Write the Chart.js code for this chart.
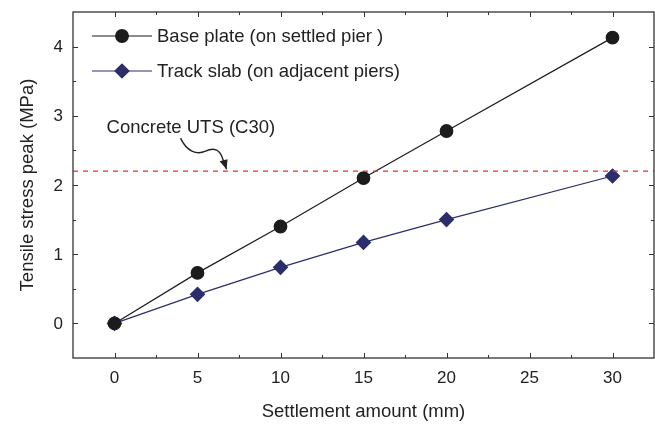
<!DOCTYPE html>
<html>
<head>
<meta charset="utf-8">
<script src="https://cdn.jsdelivr.net/npm/chart.js@4/dist/chart.umd.min.js"></script>
<style>
  html, body { margin: 0; padding: 0; background: #fff; }
  #wrap { width: 655px; height: 424px; }
</style>
</head>
<body>
<div id="wrap"><canvas id="chart" width="655" height="424"></canvas></div>
<script>
const settlement = [0, 5, 10, 15, 20, 30];
const basePlate = [0, 0.73, 1.40, 2.10, 2.78, 4.13];
const trackSlab = [0, 0.42, 0.81, 1.17, 1.50, 2.13];
const utsLimit = 2.2;
const xTicks = [0, 5, 10, 15, 20, 25, 30];
const yTicks = [0, 1, 2, 3, 4];
const xRange = [-2.5, 32.5];
const yRange = [-0.5, 4.5];

const FONT = "'Liberation Sans', Arial, sans-serif";
const BLACK = '#1c1c1c';
const NAVY = '#2b2e6a';
const AXIS = '#333';
const TEXT = '#222';

function pts(ys) {
  return settlement.map((x, i) => ({ x: x, y: ys[i] }));
}

// frame, inward ticks (major and minor) on all four sides, tick labels
const framePlugin = {
  id: 'frame',
  afterDraw(chart) {
    const { ctx, chartArea: a, scales } = chart;
    const xs = scales.x, ys = scales.y;
    ctx.save();
    ctx.strokeStyle = AXIS;
    ctx.lineWidth = 1.3;
    ctx.strokeRect(a.left, a.top, a.right - a.left, a.bottom - a.top);
    ctx.lineWidth = 1;
    ctx.beginPath();
    for (let v = 0; v <= 30; v += 2.5) {
      const px = Math.round(xs.getPixelForValue(v)) + 0.5;
      const len = v % 5 === 0 ? 5 : 3;
      ctx.moveTo(px, a.bottom); ctx.lineTo(px, a.bottom - len);
      ctx.moveTo(px, a.top); ctx.lineTo(px, a.top + len);
    }
    for (let v = 0; v <= 4; v += 0.5) {
      const py = Math.round(ys.getPixelForValue(v)) + 0.5;
      const len = v % 1 === 0 ? 5 : 3;
      ctx.moveTo(a.left, py); ctx.lineTo(a.left + len, py);
      ctx.moveTo(a.right, py); ctx.lineTo(a.right - len, py);
    }
    ctx.stroke();

    ctx.fillStyle = TEXT;
    ctx.font = '17px ' + FONT;
    ctx.textAlign = 'center';
    ctx.textBaseline = 'middle';
    xTicks.forEach(v => ctx.fillText(String(v), xs.getPixelForValue(v), a.bottom + 20));
    ctx.textAlign = 'right';
    yTicks.forEach(v => ctx.fillText(String(v), a.left - 10, ys.getPixelForValue(v) + 1));
    ctx.restore();
  }
};

// legend with line + marker, top-left inside the plot
const legendPlugin = {
  id: 'lineLegend',
  afterDraw(chart) {
    const { ctx } = chart;
    const items = chart.data.datasets.filter(d => d.inLegend);
    ctx.save();
    items.forEach((d, i) => {
      const y = 36 + i * 35;
      ctx.strokeStyle = d.borderColor;
      ctx.lineWidth = 1.2;
      ctx.beginPath();
      ctx.moveTo(92, y); ctx.lineTo(152, y);
      ctx.stroke();
      ctx.fillStyle = d.pointBackgroundColor;
      ctx.strokeStyle = d.pointBorderColor;
      Chart.helpers.drawPoint(ctx, {
        pointStyle: d.pointStyle, radius: d.pointRadius, borderWidth: 1
      }, 122, y);
      ctx.fillStyle = TEXT;
      ctx.font = '18.5px ' + FONT;
      ctx.textBaseline = 'middle';
      ctx.fillText(d.label, 157, y + 1);
    });
    ctx.restore();
  }
};

// text label and curly arrow pointing to the UTS line
const notePlugin = {
  id: 'utsNote',
  afterDraw(chart) {
    const { ctx, scales } = chart;
    const tx = scales.x.getPixelForValue(4.6);
    const ty = scales.y.getPixelForValue(2.83);
    ctx.save();
    ctx.fillStyle = TEXT;
    ctx.font = '18.5px ' + FONT;
    ctx.textAlign = 'center';
    ctx.textBaseline = 'middle';
    ctx.fillText('Concrete UTS (C30)', tx, ty);

    const ex = scales.x.getPixelForValue(6.75);
    const ey = scales.y.getPixelForValue(utsLimit) - 2;
    ctx.strokeStyle = TEXT;
    ctx.lineWidth = 1.4;
    ctx.beginPath();
    ctx.moveTo(ex - 46, ey - 31);
    ctx.bezierCurveTo(ex - 40, ey - 18, ex - 30, ey - 14, ex - 21, ey - 18);
    ctx.bezierCurveTo(ex - 13, ey - 22, ex - 7, ey - 20, ex - 4, ey - 11);
    ctx.lineTo(ex, ey);
    ctx.stroke();
    ctx.fillStyle = TEXT;
    ctx.beginPath();
    ctx.moveTo(ex, ey);
    ctx.lineTo(ex - 7, ey - 8);
    ctx.lineTo(ex + 1, ey - 10);
    ctx.closePath();
    ctx.fill();
    ctx.restore();
  }
};

new Chart(document.getElementById('chart'), {
  type: 'scatter',
  data: {
    datasets: [
      {
        label: 'Concrete UTS (C30)',
        data: [{ x: xRange[0], y: utsLimit }, { x: xRange[1], y: utsLimit }],
        showLine: true,
        borderColor: '#ee2b2b',
        borderWidth: 1.3,
        borderDash: [5, 5],
        pointRadius: 0,
        inLegend: false
      },
      {
        label: 'Base plate (on settled pier )',
        data: pts(basePlate),
        showLine: true,
        borderColor: BLACK,
        borderWidth: 1.2,
        pointStyle: 'circle',
        pointRadius: 6.3,
        pointBackgroundColor: BLACK,
        pointBorderColor: BLACK,
        inLegend: true
      },
      {
        label: 'Track slab (on adjacent piers)',
        data: pts(trackSlab),
        showLine: true,
        borderColor: NAVY,
        borderWidth: 1.2,
        pointStyle: 'rectRot',
        pointRadius: 7,
        pointBackgroundColor: NAVY,
        pointBorderColor: NAVY,
        inLegend: true
      }
    ]
  },
  options: {
    responsive: false,
    animation: false,
    devicePixelRatio: 1,
    layout: { autoPadding: false, padding: { top: 12, right: 1, left: 0, bottom: 0 } },
    plugins: { legend: { display: false }, tooltip: { enabled: false } },
    scales: {
      x: {
        type: 'linear',
        min: xRange[0], max: xRange[1],
        afterFit: s => { s.height = 66; },
        grid: { display: false, drawTicks: false },
        border: { display: false },
        ticks: { display: false },
        title: {
          display: true, text: 'Settlement amount (mm)', color: TEXT,
          font: { family: FONT, size: 18.5 }, padding: { top: 0, bottom: 1 }
        }
      },
      y: {
        type: 'linear',
        min: yRange[0], max: yRange[1],
        afterFit: s => { s.width = 73; },
        grid: { display: false, drawTicks: false },
        border: { display: false },
        ticks: { display: false },
        title: {
          display: true, text: 'Tensile stress peak (MPa)', color: TEXT,
          font: { family: FONT, size: 18.5 }, padding: { top: 17, bottom: 0 }
        }
      }
    }
  },
  plugins: [framePlugin, legendPlugin, notePlugin]
});
</script>
</body>
</html>
